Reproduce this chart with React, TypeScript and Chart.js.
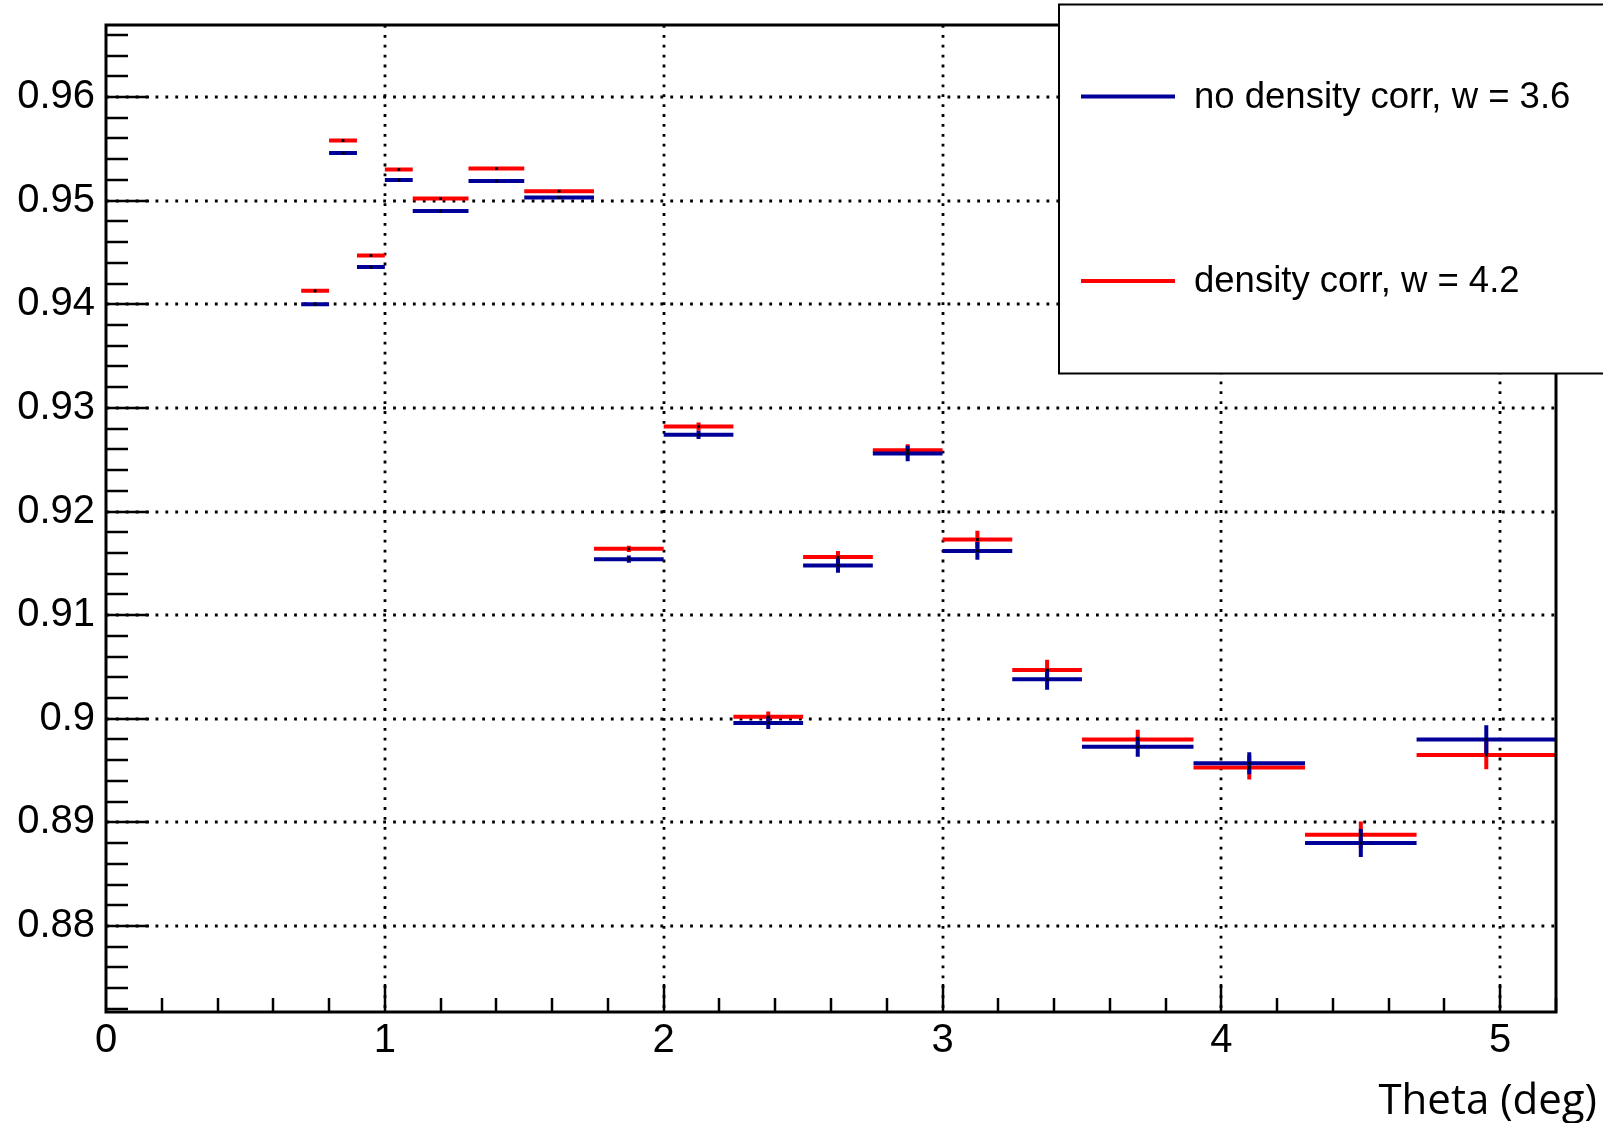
import React, { useEffect, useRef } from "react";
import { Chart, registerables } from "chart.js";

Chart.register(...registerables);

// ---- data ----
const binEdges = [0.7, 0.8, 0.9, 1.0, 1.1, 1.3, 1.5, 1.75, 2.0, 2.25, 2.5, 2.75, 3.0, 3.25, 3.5, 3.9, 4.3, 4.7, 5.2];

const noCorrValues = [0.9400, 0.9546, 0.9436, 0.9520, 0.9490, 0.9519, 0.9503, 0.9154, 0.9274, 0.8996, 0.9148, 0.9256, 0.9162, 0.9038, 0.8973, 0.8957, 0.8880, 0.8980];
const noCorrErrors = [0.00015, 0.00015, 0.00015, 0.00015, 0.00015, 0.00015, 0.00015, 0.00035, 0.0004, 0.0006, 0.0007, 0.00075, 0.00085, 0.001, 0.00097, 0.00106, 0.00135, 0.00138];

const corrValues = [0.9413, 0.9558, 0.9447, 0.9530, 0.9502, 0.9531, 0.9509, 0.9164, 0.9282, 0.9002, 0.9156, 0.9259, 0.9173, 0.9047, 0.8980, 0.8953, 0.8888, 0.8965];
const corrErrors = [0.00015, 0.00015, 0.00015, 0.00015, 0.00015, 0.00015, 0.00015, 0.0003, 0.0004, 0.0005, 0.0006, 0.0006, 0.00085, 0.001, 0.00093, 0.00116, 0.00129, 0.00138];

const xTickValues = [0, 1, 2, 3, 4, 5];
const yTickValues = [0.88, 0.89, 0.9, 0.91, 0.92, 0.93, 0.94, 0.95, 0.96];
const seriesLabels = ["no density corr, w = 3.6", "density corr, w = 4.2"];
const xAxisTitle = "Theta (deg)";

const X_MIN = 0;
const X_MAX = 5.2;
const Y_MIN = 0.8717;
const Y_MAX = 0.96695;

const BLUE = "#000099";
const RED = "#ff0000";
const SANS = "'Liberation Sans', Arial, Helvetica, sans-serif";

type Pt = { x: number; y: number | null };

function stepSegments(values: number[]): Pt[] {
  const pts: Pt[] = [];
  values.forEach((v, i) => {
    pts.push({ x: binEdges[i], y: v }, { x: binEdges[i + 1], y: v }, { x: binEdges[i + 1], y: null });
  });
  return pts;
}

function errorSegments(values: number[], errs: number[]): Pt[] {
  const pts: Pt[] = [];
  values.forEach((v, i) => {
    const c = (binEdges[i] + binEdges[i + 1]) / 2;
    pts.push({ x: c, y: v - errs[i] }, { x: c, y: v + errs[i] }, { x: c, y: null });
  });
  return pts;
}

function markerPoints(values: number[]): Pt[] {
  return values.map((v, i) => ({ x: (binEdges[i] + binEdges[i + 1]) / 2, y: v }));
}

const rootStyle = {
  id: "rootStyle",
  beforeDatasetsDraw(chart: any) {
    const { ctx, chartArea } = chart;
    const { left, right, top, bottom } = chartArea;
    const xs = chart.scales.x;
    const ys = chart.scales.y;
    ctx.save();
    // dotted grid
    ctx.strokeStyle = "#000";
    ctx.lineWidth = 2.8;
    ctx.setLineDash([2.8, 7.1]);
    yTickValues.forEach((v) => {
      const py = Math.round(ys.getPixelForValue(v));
      ctx.beginPath();
      ctx.moveTo(left, py);
      ctx.lineTo(right, py);
      ctx.stroke();
    });
    xTickValues.forEach((v) => {
      if (v === X_MIN) return;
      const px = Math.round(xs.getPixelForValue(v));
      ctx.beginPath();
      ctx.moveTo(px, top);
      ctx.lineTo(px, bottom);
      ctx.stroke();
    });
    ctx.setLineDash([]);
    // ticks (inside the frame)
    ctx.lineWidth = 2.5;
    const k0 = Math.ceil(Y_MIN / 0.002 - 1e-6);
    const k1 = Math.floor(Y_MAX / 0.002 + 1e-6);
    for (let k = k0; k <= k1; k++) {
      const v = k * 0.002;
      const major = k % 5 === 0;
      const py = Math.round(ys.getPixelForValue(v));
      ctx.beginPath();
      ctx.moveTo(left, py);
      ctx.lineTo(left + (major ? 43 : 22), py);
      ctx.stroke();
    }
    for (let k = 1; k <= 26; k++) {
      const v = k * 0.2;
      const major = k % 5 === 0;
      const px = Math.round(xs.getPixelForValue(v));
      ctx.beginPath();
      ctx.moveTo(px, bottom);
      ctx.lineTo(px, bottom - (major ? 28 : 14));
      ctx.stroke();
    }
    ctx.restore();
  },
  afterDatasetsDraw(chart: any) {
    const { ctx, chartArea } = chart;
    const { left, right, top, bottom } = chartArea;
    ctx.save();
    ctx.strokeStyle = "#000";
    ctx.lineWidth = 3;
    ctx.strokeRect(left, top, right - left, bottom - top);
    ctx.restore();
  },
  afterDraw(chart: any) {
    const { ctx, chartArea } = chart;
    ctx.save();
    // axis title
    ctx.fillStyle = "#000";
    ctx.font = "42px 'Open Sans', sans-serif";
    ctx.textAlign = "right";
    ctx.textBaseline = "alphabetic";
    ctx.fillText(xAxisTitle, chart.width - 6, chartArea.bottom + 102);
    // legend box
    const bx = 1059;
    const by = 4.5;
    ctx.fillStyle = "#fff";
    ctx.fillRect(bx, by, chart.width - bx + 10, 369);
    ctx.strokeStyle = "#000";
    ctx.lineWidth = 2;
    ctx.strokeRect(bx, by, chart.width - bx + 10, 369);
    const rows = [
      { label: seriesLabels[0], color: BLUE, y: 96.5 },
      { label: seriesLabels[1], color: RED, y: 281 },
    ];
    rows.forEach((r) => {
      ctx.strokeStyle = r.color;
      ctx.lineWidth = 4;
      ctx.beginPath();
      ctx.moveTo(1081, r.y);
      ctx.lineTo(1175, r.y);
      ctx.stroke();
      ctx.fillStyle = "#000";
      ctx.font = `36.5px ${SANS}`;
      ctx.textAlign = "left";
      ctx.textBaseline = "middle";
      ctx.fillText(r.label, 1194, r.y + 1);
    });
    ctx.restore();
  },
};

export default function App() {
  const canvasRef = useRef<HTMLCanvasElement | null>(null);

  useEffect(() => {
    if (!canvasRef.current) return;
    const lineDs = (data: Pt[], color: string) => ({
      type: "line" as const,
      data,
      borderColor: color,
      backgroundColor: color,
      borderWidth: 4,
      pointRadius: 0,
      pointHoverRadius: 0,
      fill: false,
      tension: 0,
      spanGaps: false,
      borderCapStyle: "butt" as const,
    });
    const chart = new Chart(canvasRef.current, {
      type: "line",
      data: {
        datasets: [
          {
            type: "scatter" as const,
            data: markerPoints(noCorrValues).concat(markerPoints(corrValues)),
            pointStyle: "rect",
            pointRadius: 2,
            pointBackgroundColor: "#000",
            pointBorderWidth: 0,
            showLine: false,
          } as any,
          lineDs(errorSegments(noCorrValues, noCorrErrors), BLUE),
          lineDs(stepSegments(noCorrValues), BLUE),
          lineDs(errorSegments(corrValues, corrErrors), RED),
          lineDs(stepSegments(corrValues), RED),
        ],
      },
      options: {
        animation: false,
        responsive: false,
        devicePixelRatio: 1,
        events: [],
        layout: { padding: { left: 0, top: 25, right: 47, bottom: 0 } },
        plugins: { legend: { display: false }, tooltip: { enabled: false } },
        scales: {
          x: {
            type: "linear",
            min: X_MIN,
            max: X_MAX,
            afterFit: (s: any) => {
              s.height = 111;
              s.paddingLeft = 0;
              s.paddingRight = 0;
            },
            afterBuildTicks: (s: any) => {
              s.ticks = xTickValues.map((v) => ({ value: v }));
            },
            grid: { display: false, drawTicks: false },
            border: { display: false },
            ticks: {
              padding: 5,
              maxRotation: 0,
              autoSkip: false,
              color: "#000",
              font: { size: 40, family: SANS },
              callback: (v: any) => String(v),
            },
          },
          y: {
            type: "linear",
            min: Y_MIN,
            max: Y_MAX,
            afterFit: (s: any) => {
              s.width = 106;
              s.paddingTop = 0;
              s.paddingBottom = 0;
            },
            afterBuildTicks: (s: any) => {
              s.ticks = yTickValues.map((v) => ({ value: v }));
            },
            grid: { display: false, drawTicks: false },
            border: { display: false },
            ticks: {
              padding: 11,
              autoSkip: false,
              color: "#000",
              font: { size: 40, family: SANS },
              callback: (v: any) => String(Number(Number(v).toFixed(4))),
            },
          },
        },
      },
      plugins: [rootStyle],
    } as any);
    return () => chart.destroy();
  }, []);

  return (
    <div style={{ position: "absolute", left: 0, top: 0, width: 1603, height: 1123, background: "#fff" }}>
      <canvas ref={canvasRef} width={1603} height={1123} style={{ display: "block", width: 1603, height: 1123 }} />
    </div>
  );
}
